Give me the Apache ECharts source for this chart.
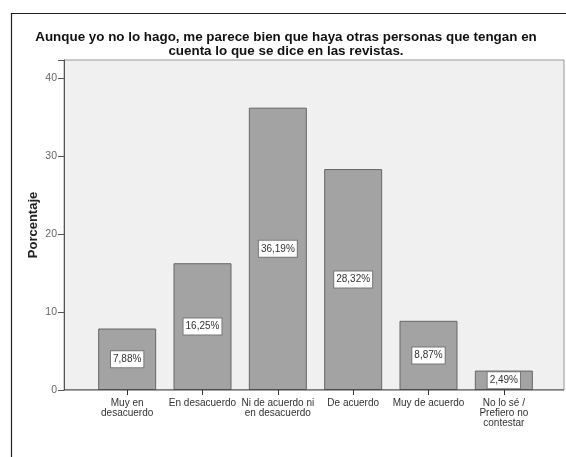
<!DOCTYPE html>
<html><head><meta charset="utf-8">
<script src="https://cdn.jsdelivr.net/npm/echarts@6/dist/echarts.min.js"></script>
<style>html,body{margin:0;padding:0;background:#fff}#c{width:566px;height:457px}</style>
</head><body><div id="c"></div>
<script>
const categories = ['Muy en\ndesacuerdo', 'En desacuerdo', 'Ni de acuerdo ni\nen desacuerdo', 'De acuerdo', 'Muy de acuerdo', 'No lo sé /\nPrefiero no\ncontestar'];
const values = [7.88, 16.25, 36.19, 28.32, 8.87, 2.49];
const yTicks = [0, 10, 20, 30, 40];
const titleText = 'Aunque yo no lo hago, me parece bien que haya otras personas que tengan en\ncuenta lo que se dice en las revistas.';
const yName = 'Porcentaje';

const chart = echarts.init(document.getElementById('c'), null, {renderer: 'canvas'});
const F = 'Liberation Sans, Arial, sans-serif';
const YMAX = 42.3;
chart.setOption({
  animation: false,
  backgroundColor: '#fff',
  graphic: [{
    type: 'rect', left: 9, top: 11, shape: {width: 700, height: 600},
    style: {fill: 'none', stroke: '#222', lineWidth: 1.2}, z: 0
  }],
  title: {
    text: titleText, left: 281, textAlign: 'center', top: 26,
    textStyle: {fontFamily: F, fontSize: 13.4, fontWeight: 'bold', color: '#111', lineHeight: 13.5}
  },
  grid: [
    {left: 64, right: 2, top: 60, bottom: 67, show: true, backgroundColor: '#f0f0f0', borderColor: '#999', borderWidth: 1},
    {left: 89.5, right: 24.5, top: 60, bottom: 67}
  ],
  xAxis: [
    {gridIndex: 0, type: 'value', show: false, min: 0, max: 1},
    {gridIndex: 1, type: 'category', data: categories,
     axisLine: {show: false},
     axisTick: {show: true, alignWithLabel: true, length: 5, lineStyle: {color: '#333'}},
     axisLabel: {interval: 0, fontFamily: F, fontSize: 10, color: '#333', lineHeight: 10, margin: 8}}
  ],
  yAxis: [
    {gridIndex: 0, type: 'value', min: 0, max: YMAX, interval: 10,
     name: yName, nameLocation: 'middle', nameGap: 24, nameMoveOverlap: false,
     nameTextStyle: {fontFamily: F, fontSize: 13, fontWeight: 'bold', color: '#222'},
     axisLine: {show: true, lineStyle: {color: '#555'}},
     axisTick: {show: true, length: 6, lineStyle: {color: '#555'}},
     splitLine: {show: false},
     axisLabel: {fontFamily: F, fontSize: 10.5, color: '#666', margin: 7,
       formatter: v => yTicks.includes(v) ? String(v) : ''}},
    {gridIndex: 1, type: 'value', min: 0, max: YMAX, show: false, splitLine: {show: false}}
  ],
  series: [
    {type: 'line', xAxisIndex: 0, yAxisIndex: 0, data: [[0, 0], [1, 0]], symbol: 'none',
     lineStyle: {color: '#333', width: 1.2}, z: 5, silent: true},
    {type: 'bar', xAxisIndex: 1, yAxisIndex: 1, data: values, barCategoryGap: '23%',
     itemStyle: {color: '#a3a3a3', borderColor: '#666', borderWidth: 1},
     label: {show: true, position: 'inside',
       formatter: p => p.value.toFixed(2).replace('.', ',') + '%',
       fontFamily: F, fontSize: 10, color: '#333', backgroundColor: '#fff',
       borderColor: '#777', borderWidth: 1, padding: [3, 2]}}
  ]
});
</script></body></html>
